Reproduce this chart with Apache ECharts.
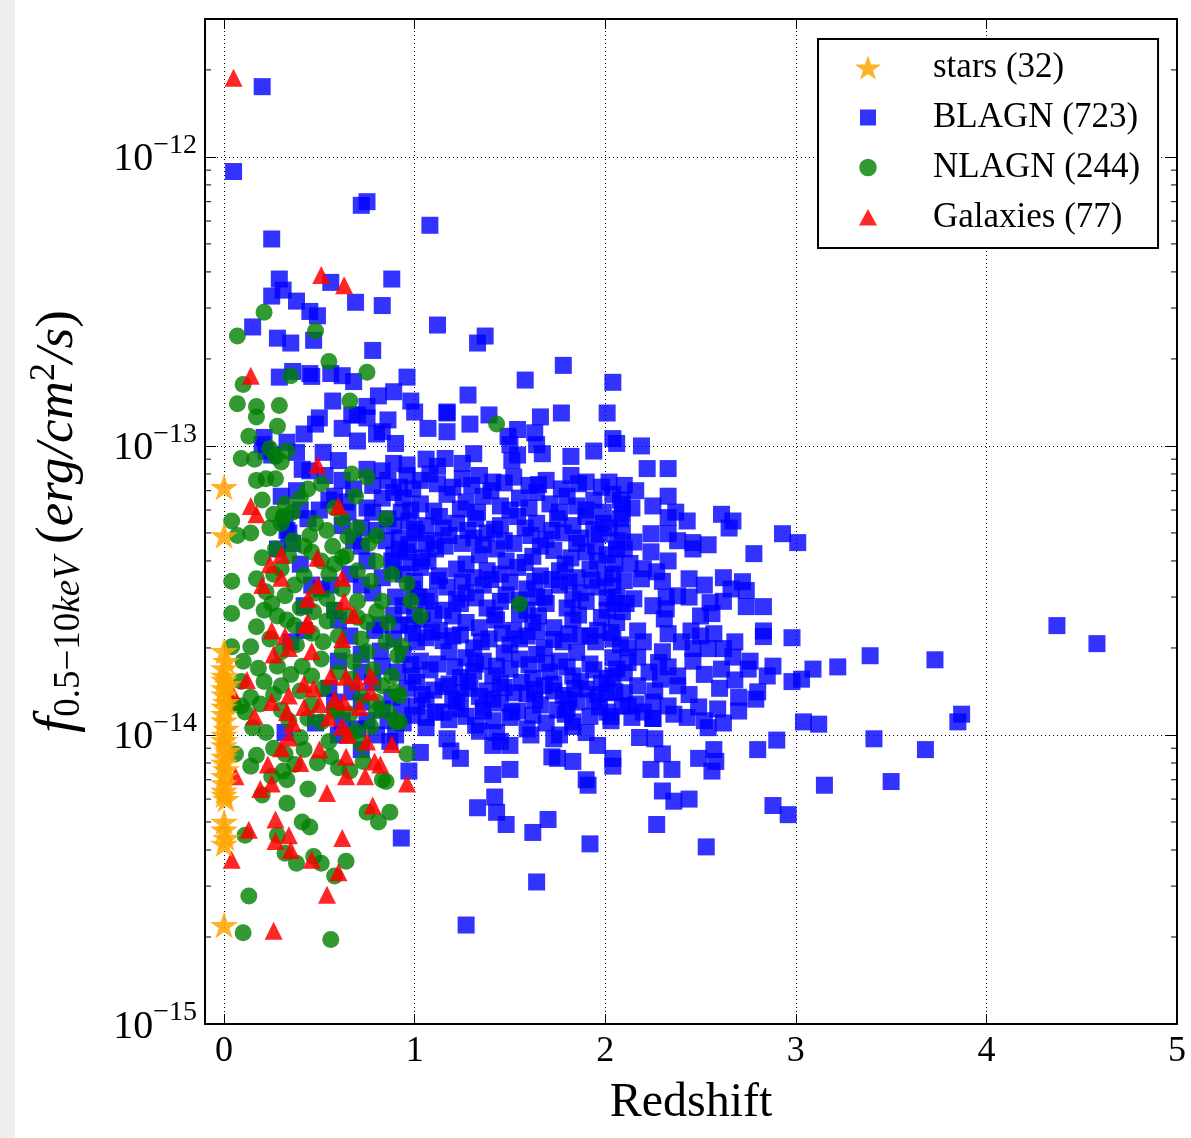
<!DOCTYPE html>
<html>
<head>
<meta charset="utf-8">
<title>f 0.5-10keV vs Redshift</title>
<script src="https://cdn.jsdelivr.net/npm/echarts@6.0.0/dist/echarts.min.js"></script>
<style>
  html, body { margin: 0; padding: 0; background: #fff; }
  #chart { width: 1191px; height: 1138px; }
</style>
</head>
<body>
<div id="chart"></div>
<script>
// flux values below are in units of 1e-14 erg/cm^2/s, pairs are [redshift, flux]
var FLUX_UNIT = 1e-14;

var stars = [
  [0.0, 7.2], [0.0, 4.9], [0.0, 1.95], [0.01, 1.8], [0.0, 1.7], [0.0, 1.6], [0.02, 1.5], [0.0, 1.45],
  [0.0, 1.38], [0.01, 1.3], [0.0, 1.25], [0.0, 1.18], [0.0, 1.12], [0.01, 1.05], [0.0, 1.0], [0.0, 0.96],
  [0.0, 0.92], [0.02, 0.88], [0.0, 0.84], [0.0, 0.8], [0.01, 0.76], [0.0, 0.72], [0.0, 0.68], [0.0, 0.64],
  [0.01, 0.6], [0.0, 0.62], [0.0, 0.5], [0.0, 0.47], [0.01, 0.44], [0.0, 0.42], [0.0, 0.22], [0.0, 1.55]
];

var blagn = [
  // bright / sparse upper part
  [0.2, 175], [0.05, 89], [0.72, 68], [0.75, 70], [1.08, 58], [0.25, 52],
  [0.29, 37.8], [0.56, 36.8], [0.88, 37.8], [0.31, 34.6], [0.25, 33], [0.38, 31.7], [0.69, 31.4], [0.83, 30.6],
  [0.45, 29.2], [0.49, 28.2], [1.12, 26.2], [0.15, 25.8], [0.28, 23.6], [0.35, 22.7], [0.47, 23.2], [0.78, 21.4],
  [0.29, 17.3], [0.36, 18.1], [0.45, 17.8], [0.46, 17.4], [0.56, 17.8], [0.62, 17.5], [0.68, 16.7], [0.96, 17.3],
  [0.89, 15.4], [0.81, 14.9], [0.57, 14.3], [0.98, 14.3], [0.75, 13.7],
  [1.37, 24], [1.33, 22.7], [1.78, 19], [1.58, 16.9], [2.04, 16.6], [1.28, 15], [1.17, 13], [1.39, 12.8],
  [1.77, 13], [1.66, 12.6], [2.01, 13], [1.29, 11.9], [1.17, 11.2], [1.54, 11.4], [1.63, 11.1], [1.49, 10.8],
  [2.04, 10.6], [2.19, 10], [1.31, 9.4], [1.54, 9.3], [1.67, 9.4], [1.82, 9.2], [1.94, 9.6], [1.16, 9.05],
  [1.25, 8.7], [1.51, 8.9], [2.22, 8.35], [2.33, 8.35], [1.5, 10.1], [1.64, 10.1], [2.06, 10.2], [1.06, 9.0], [1.12, 8.5],
  [0.75, 12.5], [0.83, 11.2], [1.0, 13.1], [1.07, 11.5], [1.17, 13.1], [0.67, 12.8],
  // low redshift part, behind NLAGN
  [0.48, 11.9], [0.22, 9.6], [0.33, 10.3], [0.6, 8.9], [0.3, 6.7], [0.33, 5.1], [0.53, 7.9], [0.75, 8.3],
  [0.83, 8.2], [0.89, 8.7], [0.96, 8.6], [0.83, 6.6], [0.89, 6.9], [0.75, 6.1], [0.65, 5.9], [0.58, 6.7],
  [0.72, 5.2], [0.89, 5.3], [0.72, 4.5], [0.89, 4.2], [0.46, 3.3], [0.51, 3.2], [0.42, 2.8], [0.58, 2.7],
  [0.72, 3.3], [0.83, 3.5], [0.89, 3.7], [0.89, 2.6], [0.79, 2.3], [0.89, 2.15], [0.83, 1.73], [0.91, 1.65],
  [0.72, 1.65], [0.67, 1.41], [0.58, 1.3], [0.72, 1.3], [0.83, 1.23], [0.93, 1.26], [0.35, 2.1], [0.42, 2.3],
  [0.32, 1.02], [0.72, 0.89], [0.6, 1.0], [0.7, 1.05], [0.8, 1.0], [0.75, 1.12], [0.9, 1.0], [0.87, 0.95],
  [0.34, 5.0], [0.32, 5.6], [0.38, 7.0], [0.41, 8.3], [0.4, 6.0], [0.36, 4.6], [0.28, 4.4],
  [0.21, 10.7], [0.2, 10.1], [0.25, 9.3],
  [0.45, 8.2], [0.52, 9.5], [0.62, 7.6], [0.68, 7.1], [0.78, 7.3], [0.86, 7.6], [0.92, 7.2], [0.55, 6.5],
  [0.64, 6.4], [0.78, 5.9], [0.86, 5.6], [0.93, 5.9], [0.62, 5.3], [0.8, 5.1], [0.68, 4.7], [0.85, 4.7],
  [0.92, 4.4], [0.75, 4.0], [0.88, 4.0], [0.66, 3.6], [0.78, 3.1], [0.9, 3.0], [0.56, 3.3], [0.6, 2.5],
  [0.66, 2.2], [0.82, 2.4], [0.92, 2.4], [0.6, 1.8], [0.72, 1.9], [0.82, 1.95], [0.55, 1.45], [0.78, 1.52],
  [0.88, 1.35], [0.48, 1.1], [0.62, 1.12], [0.86, 1.12], [0.4, 3.9], [0.44, 5.6], [0.5, 6.0], [0.38, 9.5],
  [0.42, 11], [0.5, 12.5], [0.62, 11.5], [0.7, 10.4], [0.8, 11], [0.9, 10.2], [0.86, 12.3], [0.7, 12.8],
  // z 2 - 3.2
  [2.1, 7.3], [2.33, 6.7], [2.08, 6.5], [2.09, 5.8], [2.33, 5.65], [2.43, 5.5], [2.61, 5.8], [2.67, 5.5],
  [2.65, 5.2], [2.09, 5.05], [2.24, 4.97], [2.33, 4.97], [2.93, 4.97], [3.01, 4.63], [2.46, 4.63], [2.46, 4.4],
  [2.78, 4.24], [2.06, 4.4], [2.24, 4.3], [2.33, 4.0], [2.13, 3.92], [2.05, 3.92], [2.2, 3.76], [2.27, 3.67],
  [2.1, 3.42], [2.19, 3.47], [2.44, 3.47], [2.72, 3.39], [2.74, 3.16], [2.04, 3.28], [2.15, 2.96], [2.32, 3.0],
  [2.38, 3.03], [2.44, 3.0], [2.55, 2.87], [2.74, 2.78], [2.83, 2.78], [2.05, 2.85], [2.09, 2.67], [2.32, 2.73],
  [2.5, 2.58], [2.56, 2.63], [2.31, 2.52], [2.83, 2.29], [2.83, 2.19], [2.98, 2.17], [2.17, 2.29], [2.33, 2.24],
  [2.45, 2.29], [2.57, 2.24], [2.04, 2.15], [2.2, 2.1], [2.3, 1.94], [2.46, 1.99], [2.54, 1.99], [2.62, 1.99],
  [2.67, 1.86], [2.76, 1.8], [2.88, 1.73], [3.09, 1.69], [3.22, 1.72], [2.06, 1.69], [2.17, 1.86], [2.23, 1.65],
  [2.33, 1.72], [2.38, 1.6], [2.46, 1.8], [2.61, 1.69], [2.75, 1.69], [2.85, 1.6], [2.04, 1.6], [2.29, 1.56],
  [2.38, 1.48], [2.98, 1.53], [2.8, 1.41], [2.79, 1.33], [2.17, 1.48], [2.05, 1.41], [2.16, 1.28], [2.25, 1.3],
  [2.33, 1.26], [2.09, 1.26], [2.49, 1.25], [2.59, 1.23], [2.7, 1.21], [2.43, 1.15], [2.52, 1.12], [2.25, 1.14],
  [2.03, 1.16], [3.04, 1.11], [3.12, 1.09],
  // high redshift
  [4.37, 2.39], [4.58, 2.07], [3.39, 1.88], [3.73, 1.82], [3.03, 1.56], [3.87, 1.18], [3.85, 1.11], [3.41, 0.97],
  [3.68, 0.89], [3.15, 0.67], [3.5, 0.69],
  // faint part
  [2.9, 0.96], [2.8, 0.89], [2.88, 0.57], [2.96, 0.53], [2.53, 0.41], [2.27, 0.49], [2.36, 0.59], [2.44, 0.6],
  [2.3, 0.64], [2.24, 0.76], [2.35, 0.76], [2.49, 0.83], [2.56, 0.75], [2.58, 0.81], [2.57, 0.89], [2.3, 0.86],
  [2.26, 0.97], [2.18, 0.98], [2.54, 1.06], [2.04, 0.78], [2.04, 0.83], [1.96, 0.92], [1.9, 0.7], [1.91, 0.67],
  [1.92, 0.42], [1.83, 0.81], [1.75, 0.83], [1.72, 0.84], [1.9, 1.02], [1.76, 1.0], [1.73, 0.97], [1.61, 1.0],
  [1.7, 0.51], [1.62, 0.46], [1.64, 0.31], [1.27, 0.22], [1.33, 0.56], [1.42, 0.61], [1.43, 0.54], [1.48, 0.49],
  [1.41, 0.73], [1.5, 0.76], [1.24, 0.83], [1.19, 0.88], [1.17, 0.97], [1.34, 1.03], [1.43, 1.02], [1.45, 0.95],
  [1.5, 0.92], [1.41, 0.92], [1.03, 0.87], [0.97, 0.75], [0.93, 0.44], [1.24, 1.23], [1.36, 1.21], [1.51, 1.2],
  [1.06, 1.15], [1.8, 1.23], [1.83, 1.11], [2.01, 1.2], [2.12, 1.26], [2.2, 1.2], [2.25, 1.14],
  // dense core z 0.9 - 2.4
  [0.96, 7.9], [1.03, 7.6], [1.08, 8.0], [1.25, 7.7], [1.34, 7.9], [1.41, 7.5], [1.52, 7.8], [1.69, 7.6], [1.82, 7.9], [1.9, 7.5],
  [1.12, 7.4], [1.3, 7.3], [1.47, 7.45], [1.65, 7.35], [1.86, 7.4], [2.02, 7.5], [2.16, 7.0],
  [0.99, 7.1], [1.2, 7.2], [1.4, 7.0], [1.6, 7.3], [1.77, 7.1], [1.98, 7.2],
  [0.94, 6.6], [1.03, 6.3], [1.17, 6.8], [1.27, 6.4], [1.36, 6.7], [1.45, 6.2], [1.55, 6.6], [1.64, 6.9], [1.71, 6.3],
  [1.8, 6.7], [1.85, 6.2], [1.94, 6.5], [2.04, 6.8], [2.09, 6.3],
  [0.98, 6.0], [1.1, 5.95], [1.24, 6.05], [1.33, 5.9], [1.5, 6.0], [1.6, 6.1], [1.76, 5.9], [1.9, 6.0], [1.99, 5.9],
  [2.14, 6.1], [2.25, 6.2], [2.37, 5.9],
  [0.97, 5.5], [1.06, 5.3], [1.13, 5.7], [1.22, 5.4], [1.32, 5.6], [1.45, 5.3], [1.54, 5.7], [1.64, 5.4], [1.75, 5.6],
  [1.83, 5.3], [1.9, 5.7], [1.99, 5.4], [2.08, 5.6],
  [1.0, 5.15], [1.15, 5.2], [1.28, 5.1], [1.42, 5.15], [1.58, 5.2], [1.72, 5.1], [1.94, 5.15], [2.02, 5.2],
  [0.92, 4.8], [1.01, 5.0], [1.1, 4.7], [1.18, 4.9], [1.31, 4.8], [1.38, 5.0], [1.47, 4.7], [1.61, 4.9], [1.69, 4.75],
  [1.78, 5.0], [1.87, 4.8], [1.97, 4.95], [2.06, 4.7],
  [0.97, 4.55], [1.06, 4.6], [1.16, 4.5], [1.25, 4.6], [1.36, 4.55], [1.52, 4.6], [1.66, 4.5], [1.85, 4.6], [1.95, 4.5],
  [2.15, 4.65], [2.38, 4.7], [2.54, 4.55],
  [0.96, 4.3], [1.04, 4.1], [1.11, 4.4], [1.34, 4.2], [1.43, 4.4], [1.62, 4.15], [1.73, 4.35], [1.82, 4.1], [1.9, 4.3],
  [2.01, 4.2], [2.1, 4.4],
  [0.98, 3.95], [1.07, 4.0], [1.27, 3.9], [1.48, 4.0], [1.58, 3.95], [1.79, 3.9], [1.96, 4.0],
  [0.94, 3.6], [1.03, 3.8], [1.13, 3.55], [1.22, 3.75], [1.31, 3.5], [1.38, 3.7], [1.45, 3.6], [1.54, 3.8], [1.66, 3.55],
  [1.76, 3.7], [1.85, 3.5], [1.92, 3.75], [2.04, 3.6],
  [1.0, 3.4], [1.12, 3.42], [1.25, 3.38], [1.4, 3.45], [1.5, 3.38], [1.63, 3.4], [1.72, 3.45], [1.81, 3.38], [1.93, 3.43],
  [2.0, 3.5], [2.3, 3.4], [2.52, 3.3], [2.62, 3.5],
  [0.99, 3.2], [1.08, 3.0], [1.17, 3.25], [1.27, 3.1], [1.36, 3.3], [1.48, 3.05], [1.59, 3.2], [1.68, 3.0], [1.76, 3.3],
  [1.87, 3.1], [1.96, 3.25], [2.06, 3.0],
  [1.02, 3.0], [1.22, 2.95], [1.32, 2.98], [1.55, 2.93], [1.64, 3.0], [1.83, 2.95], [2.01, 2.98], [2.25, 2.8], [2.62, 2.9], [2.66, 3.2],
  [0.94, 2.8], [1.06, 2.9], [1.15, 2.7], [1.24, 2.85], [1.38, 2.75], [1.45, 2.9], [1.59, 2.7], [1.69, 2.85], [1.8, 2.75],
  [1.9, 2.9], [2.01, 2.7], [2.11, 2.85],
  [1.0, 2.6], [1.1, 2.62], [1.2, 2.58], [1.42, 2.6], [1.55, 2.62], [1.65, 2.58], [1.86, 2.6], [1.98, 2.55],
  [0.97, 2.4], [1.04, 2.5], [1.13, 2.3], [1.27, 2.45], [1.34, 2.35], [1.43, 2.5], [1.52, 2.3], [1.62, 2.45], [1.73, 2.35],
  [1.83, 2.5], [1.96, 2.3], [2.06, 2.45],
  [0.99, 2.25], [1.09, 2.27], [1.24, 2.22], [1.46, 2.25], [1.64, 2.28], [1.81, 2.24], [1.92, 2.2], [2.03, 2.26],
  [1.06, 2.17], [1.15, 2.12], [1.35, 2.1], [1.55, 2.15], [1.73, 2.14], [1.95, 2.1], [2.12, 2.0], [2.4, 2.1], [2.5, 2.2], [2.68, 2.1],
  [1.01, 2.1], [1.2, 2.2], [1.31, 2.0], [1.39, 2.15], [1.5, 2.05], [1.59, 2.2], [1.68, 2.0], [1.78, 2.1], [1.87, 2.2], [2.08, 2.05],
  [0.94, 1.9], [1.03, 1.8], [1.18, 1.94], [1.27, 1.85], [1.36, 1.8], [1.47, 1.92], [1.55, 1.83], [1.64, 1.9], [1.76, 1.8],
  [1.85, 1.93], [2.04, 1.85],
  [0.98, 1.75], [1.12, 1.76], [1.21, 1.72], [1.32, 1.76], [1.43, 1.73], [1.6, 1.75], [1.69, 1.77], [1.8, 1.72], [1.92, 1.76],
  [2.12, 1.78], [2.28, 1.78], [2.52, 1.62], [2.68, 1.55],
  [0.99, 1.6], [1.08, 1.68], [1.24, 1.58], [1.31, 1.66], [1.41, 1.6], [1.5, 1.69], [1.62, 1.57], [1.71, 1.65], [1.83, 1.6],
  [1.94, 1.68], [2.01, 1.57], [2.1, 1.64],
  [1.01, 1.52], [1.18, 1.5], [1.28, 1.53], [1.45, 1.51], [1.56, 1.52], [1.73, 1.5], [1.87, 1.53], [1.98, 1.51],
  [0.96, 1.45], [1.04, 1.38], [1.15, 1.47], [1.24, 1.4], [1.34, 1.36], [1.47, 1.46], [1.59, 1.39], [1.68, 1.48], [1.78, 1.37],
  [1.9, 1.44], [2.01, 1.4],
  [1.1, 1.43], [1.29, 1.45], [1.38, 1.42], [1.52, 1.4], [1.63, 1.44], [1.73, 1.42], [1.84, 1.45], [1.96, 1.38], [2.1, 1.4],
  [2.26, 1.42], [2.44, 1.38], [2.6, 1.45], [2.7, 1.35],
  [1.06, 1.32], [1.2, 1.33], [1.41, 1.33], [1.63, 1.32], [1.81, 1.33], [1.94, 1.31],
  [1.01, 1.26], [1.11, 1.2], [1.22, 1.3], [1.36, 1.24], [1.45, 1.29], [1.54, 1.21], [1.66, 1.27], [1.75, 1.22], [1.85, 1.3],
  [1.97, 1.25],
  [0.99, 1.17], [1.15, 1.2], [1.27, 1.16], [1.5, 1.15], [1.62, 1.17], [1.79, 1.18], [1.92, 1.16], [2.14, 1.15], [2.36, 1.18], [2.62, 1.1],
  [0.94, 1.1], [1.06, 1.06], [1.18, 1.13], [1.32, 1.08], [1.41, 1.12], [1.59, 1.05], [1.69, 1.1], [1.83, 1.07], [2.03, 1.12]
];

var nlagn = [
  [0.21, 29], [0.07, 24], [0.48, 25], [0.55, 19.6], [0.75, 18], [0.35, 17.5], [0.1, 16.3], [0.07, 14], [0.66, 14.3],
  [0.29, 13.8], [0.17, 13.7], [1.43, 11.9],
  [0.17, 12.6], [0.28, 11.7], [0.13, 10.8], [0.24, 9.8], [0.09, 9.05], [0.16, 9.0], [0.27, 9.2], [0.33, 9.6], [0.3, 8.8], [0.67, 8.0],
  [0.75, 7.8], [0.17, 7.6], [0.22, 7.7], [0.27, 7.7], [0.51, 7.4], [0.44, 7.1], [0.69, 6.7], [0.2, 6.5], [0.32, 6.3], [0.26, 5.8],
  [0.31, 5.7], [0.04, 5.5], [0.85, 5.6], [0.48, 5.4], [0.07, 4.9], [0.14, 5.0], [0.3, 5.4], [0.54, 5.1], [0.45, 4.9], [0.65, 4.85],
  [0.57, 4.5], [0.42, 4.5], [0.8, 4.9], [0.34, 4.17], [0.51, 4.0], [0.62, 4.1], [0.64, 4.17], [0.8, 3.98], [0.04, 3.4], [0.17, 3.47],
  [0.42, 3.56], [0.3, 3.76], [0.55, 3.6], [0.96, 3.34], [0.98, 2.91], [1.03, 2.58], [0.83, 2.9], [0.22, 3.13], [0.32, 3.03], [0.54, 2.96],
  [0.04, 2.63], [0.21, 2.7], [0.28, 2.58], [0.47, 2.67], [0.8, 2.67], [0.75, 2.46], [0.17, 2.37], [0.37, 2.39], [0.54, 2.48], [0.64, 2.58],
  [0.04, 2.02], [0.14, 2.02], [0.3, 1.94], [0.62, 1.94], [0.75, 1.94], [0.93, 2.03], [0.91, 1.88], [0.51, 1.83], [0.41, 1.73], [0.28, 1.73],
  [0.68, 1.79], [0.09, 1.53], [0.21, 1.53], [0.3, 1.48], [0.67, 1.56], [0.9, 1.41], [0.83, 1.48], [0.05, 1.28], [0.19, 1.28], [0.11, 1.2],
  [0.59, 1.23],
  [0.09, 1.26], [0.15, 1.06], [0.34, 1.12], [0.44, 1.14], [0.51, 1.11], [0.58, 1.21], [0.69, 1.03], [0.77, 1.07], [0.9, 1.11], [0.8, 1.21],
  [0.06, 0.86], [0.17, 0.85], [0.14, 0.78], [0.32, 0.86], [0.37, 0.79], [0.31, 0.75], [0.25, 0.72], [0.33, 0.7], [0.42, 0.89], [0.56, 0.84],
  [0.6, 0.77], [0.65, 1.0], [0.73, 0.81], [0.85, 0.69], [0.83, 0.7], [0.96, 0.86], [0.33, 0.58], [0.75, 0.54], [0.81, 0.5], [0.87, 0.54],
  [0.41, 0.5], [0.45, 0.48], [0.11, 0.45], [0.28, 0.45], [0.32, 0.39], [0.38, 0.36], [0.51, 0.36], [0.47, 0.38], [0.64, 0.366], [0.58, 0.325],
  [0.13, 0.277], [0.1, 0.207], [0.56, 0.196],
  [1.55, 2.84], [0.92, 1.37], [0.92, 1.11],
  [0.24, 5.2], [0.36, 5.9], [0.4, 6.6], [0.58, 6.1], [0.62, 5.6], [0.7, 5.2], [0.76, 4.6], [0.36, 4.7], [0.27, 4.4], [0.2, 4.1],
  [0.46, 4.3], [0.58, 3.9], [0.7, 3.7], [0.77, 3.4], [0.88, 3.6], [0.26, 3.6], [0.37, 3.3], [0.48, 3.1], [0.62, 3.2], [0.7, 2.9],
  [0.12, 2.9], [0.25, 2.85], [0.4, 2.75], [0.58, 2.7], [0.7, 2.55], [0.86, 2.45], [0.33, 2.5], [0.46, 2.25], [0.6, 2.2], [0.72, 2.15],
  [0.85, 2.1], [0.24, 2.15], [0.38, 2.05], [0.52, 2.1], [0.1, 1.8], [0.18, 1.7], [0.35, 1.62], [0.46, 1.6], [0.6, 1.65], [0.78, 1.68],
  [0.88, 1.6], [0.26, 1.38], [0.4, 1.42], [0.52, 1.45], [0.72, 1.35], [0.8, 1.3], [0.14, 1.35], [0.3, 1.22], [0.46, 1.28], [0.66, 1.18],
  [0.86, 1.2], [0.22, 1.02], [0.4, 0.98], [0.55, 0.95], [0.72, 0.93], [0.26, 0.9], [0.49, 0.8], [0.66, 0.75], [0.2, 0.62], [0.44, 0.65]
];

var galaxies = [
  [0.05, 188], [0.51, 39], [0.63, 36], [0.14, 17.5],
  [0.49, 8.6], [0.14, 6.2], [0.17, 5.8], [0.6, 6.2], [0.3, 4.2], [0.24, 3.9], [0.49, 4.1], [0.62, 3.5], [0.2, 3.3], [0.44, 2.96],
  [0.63, 2.9], [0.68, 2.6], [0.25, 2.3], [0.32, 2.2], [0.43, 2.4], [0.34, 2.0], [0.62, 2.15], [0.26, 1.9], [0.46, 1.95], [0.56, 1.6],
  [0.64, 1.59], [0.7, 1.53], [0.77, 1.6], [0.42, 1.5], [0.04, 1.41], [0.77, 1.41], [0.34, 1.37], [0.25, 1.3], [0.58, 1.33], [0.5, 1.28],
  [0.63, 1.3], [0.42, 1.25], [0.33, 1.2], [0.16, 1.16],
  [0.34, 0.98], [0.62, 1.07], [0.65, 1.0], [0.5, 0.89], [0.88, 0.93], [0.23, 0.79], [0.64, 0.84], [0.79, 0.81], [0.82, 0.79], [0.06, 0.72],
  [0.25, 0.68], [0.19, 0.65], [0.64, 0.72], [0.74, 0.72], [0.96, 0.68], [0.54, 0.63], [0.78, 0.57], [0.27, 0.51], [0.13, 0.47], [0.34, 0.45],
  [0.27, 0.43], [0.62, 0.44], [0.35, 0.4], [0.46, 0.37], [0.04, 0.37], [0.6, 0.335], [0.54, 0.28], [0.26, 0.21],
  [0.3, 3.5], [0.49, 3.3], [0.44, 2.45], [0.12, 1.55], [0.47, 1.45], [0.36, 1.1], [0.55, 1.15], [0.71, 1.25], [0.4, 0.8], [0.3, 0.9],
  [0.75, 0.95]
];

// y axis minor tick positions (2..9 x 10^n)
var minorMultipliers = [2, 3, 4, 5, 6, 7, 8, 9];
var minorDecades = [1e-15, 1e-14, 1e-13, 1e-12];

var legendNames = ['stars (32)', 'BLAGN (723)', 'NLAGN (244)', 'Galaxies (77)'];

var Y_MIN = 1e-15, Y_MAX = 3e-12;
var X_MIN = -0.1, X_MAX = 5;
var SERIF = '"Liberation Serif", "Times New Roman", serif';
var STAR = 'path://M100,0 L122.45,69.1 L195.11,69.1 L136.33,111.8 L158.78,180.9 L100,138.2 L41.22,180.9 L63.67,111.8 L4.89,69.1 L77.55,69.1 Z';
// legend icons: the leading moves keep a 26x26 frame so the smaller marks keep their size
var ICON_SQUARE = 'path://M0,0 M26,26 M5,5 L21,5 L21,21 L5,21 Z';
var ICON_CIRCLE = 'path://M0,0 M26,26 M13,4.2 A8.8,8.8 0 1,1 12.99,4.2 Z';
var ICON_TRIANGLE = 'path://M0,0 M26,26 M13,4.5 L22,21 L4,21 Z';

function toFlux (arr) {
  return arr.map(function (p) { return [p[0], p[1] * FLUX_UNIT]; });
}

var minorTicks = [];
minorDecades.forEach(function (d) {
  minorMultipliers.forEach(function (m) {
    if (m * d < Y_MAX) minorTicks.push([0, m * d]);
  });
});

var dotted = { color: '#000', width: 1, type: [1, 3] };
var frameLine = { show: true, onZero: false, lineStyle: { color: '#000', width: 2 } };

var chart = echarts.init(document.getElementById('chart'), null, { renderer: 'canvas' });

var option = {
  animation: false,
  backgroundColor: '#fff',
  graphic: [{
    type: 'rect', left: 0, top: 0, z: -10,
    shape: { width: 15, height: 1138 },
    style: { fill: '#efeeec' }
  }],
  grid: { left: 205, right: 14, top: 19, bottom: 114 },
  legend: {
    orient: 'vertical',
    left: 818,
    top: 39,
    data: [
      { name: legendNames[0], icon: STAR },
      { name: legendNames[1], icon: ICON_SQUARE },
      { name: legendNames[2], icon: ICON_CIRCLE },
      { name: legendNames[3], icon: ICON_TRIANGLE }
    ],
    selectedMode: false,
    backgroundColor: '#fff',
    borderColor: '#000',
    borderWidth: 2,
    borderRadius: 0,
    padding: [8, 18, 10, 37],
    itemWidth: 26,
    itemHeight: 26,
    itemGap: 9,
    textStyle: { fontFamily: SERIF, fontSize: 35, color: '#000', lineHeight: 41, padding: [0, 0, 0, 47] }
  },
  xAxis: [{
    type: 'value',
    position: 'bottom',
    min: X_MIN,
    max: X_MAX,
    axisLine: frameLine,
    axisTick: { inside: true, length: 10, lineStyle: { color: '#000', width: 1 } },
    splitLine: { show: true, lineStyle: dotted },
    axisLabel: {
      margin: 10,
      fontFamily: SERIF,
      fontSize: 36,
      color: '#000',
      formatter: function (v) { return Math.abs(v - Math.round(v)) < 1e-9 ? String(Math.round(v)) : ''; }
    },
    name: 'Redshift',
    nameLocation: 'middle',
    nameGap: 55,
    nameTextStyle: { fontFamily: SERIF, fontSize: 48, color: '#000' }
  }, {
    type: 'value',
    position: 'top',
    min: X_MIN,
    max: X_MAX,
    axisLine: frameLine,
    axisTick: { inside: true, length: 10, lineStyle: { color: '#000', width: 1 } },
    splitLine: { show: false },
    axisLabel: { show: false }
  }],
  yAxis: [{
    type: 'log',
    logBase: 10,
    position: 'left',
    min: Y_MIN,
    max: Y_MAX,
    axisLine: frameLine,
    axisTick: { inside: true, length: 11, lineStyle: { color: '#000', width: 1 } },
    splitLine: { show: true, lineStyle: dotted },
    axisLabel: {
      margin: 8,
      color: '#000',
      formatter: function (v) {
        var e = Math.log10(v);
        if (Math.abs(e - Math.round(e)) > 1e-6) return '';
        return '{b|10}{s|\u2212' + Math.abs(Math.round(e)) + '}';
      },
      rich: {
        b: { fontFamily: SERIF, fontSize: 40, color: '#000', padding: [6, 0, 0, 0] },
        s: { fontFamily: SERIF, fontSize: 28, color: '#000', padding: [0, 0, 22, 0] }
      }
    },
    name: '{f|f}{sub|0.5\u221210}{subi|keV}{p| (}{i|erg/cm}{sup|2}{i|/s}{p|)}',
    nameLocation: 'middle',
    nameRotate: 90,
    nameGap: 116,
    nameTextStyle: {
      color: '#000',
      rich: {
        f: { fontFamily: SERIF, fontStyle: 'italic', fontSize: 58, color: '#000' },
        sub: { fontFamily: SERIF, fontSize: 37, color: '#000', padding: [22, 0, 0, 0] },
        subi: { fontFamily: SERIF, fontStyle: 'italic', fontSize: 37, color: '#000', padding: [22, 0, 0, 0] },
        p: { fontFamily: SERIF, fontSize: 53, color: '#000' },
        i: { fontFamily: SERIF, fontStyle: 'italic', fontSize: 53, color: '#000' },
        sup: { fontFamily: SERIF, fontSize: 36, color: '#000', padding: [0, 0, 26, 0] }
      }
    }
  }, {
    type: 'log',
    logBase: 10,
    position: 'right',
    min: Y_MIN,
    max: Y_MAX,
    axisLine: frameLine,
    axisTick: { inside: true, length: 11, lineStyle: { color: '#000', width: 1 } },
    splitLine: { show: false },
    axisLabel: { show: false }
  }],
  series: [
    {
      name: legendNames[0],
      type: 'scatter',
      symbol: STAR,
      symbolSize: 28,
      symbolKeepAspect: true,
      z: 6,
      itemStyle: { color: '#ffa500', opacity: 0.85 },
      data: toFlux(stars)
    },
    {
      name: legendNames[1],
      type: 'scatter',
      symbol: 'rect',
      symbolSize: 17,
      z: 3,
      itemStyle: { color: '#0000ff', opacity: 0.8 },
      data: toFlux(blagn)
    },
    {
      name: legendNames[2],
      type: 'scatter',
      symbol: 'circle',
      symbolSize: 17,
      z: 4,
      itemStyle: { color: '#008000', opacity: 0.8 },
      data: toFlux(nlagn)
    },
    {
      name: legendNames[3],
      type: 'scatter',
      symbol: 'triangle',
      symbolSize: 18,
      z: 5,
      itemStyle: { color: '#ff0000', opacity: 0.85 },
      data: toFlux(galaxies)
    },
    {
      // minor log ticks on left and right frame
      type: 'custom',
      silent: true,
      z: 8,
      clip: false,
      data: minorTicks,
      encode: { x: 0, y: 1 },
      renderItem: function (params, api) {
        var cs = params.coordSys;
        var y = api.coord([0, api.value(1)])[1];
        var st = { stroke: '#000', lineWidth: 1 };
        return {
          type: 'group',
          children: [
            { type: 'line', shape: { x1: cs.x, y1: y, x2: cs.x + 6, y2: y }, style: st },
            { type: 'line', shape: { x1: cs.x + cs.width - 6, y1: y, x2: cs.x + cs.width, y2: y }, style: st }
          ]
        };
      }
    }
  ]
};

chart.setOption(option);
</script>
</body>
</html>
